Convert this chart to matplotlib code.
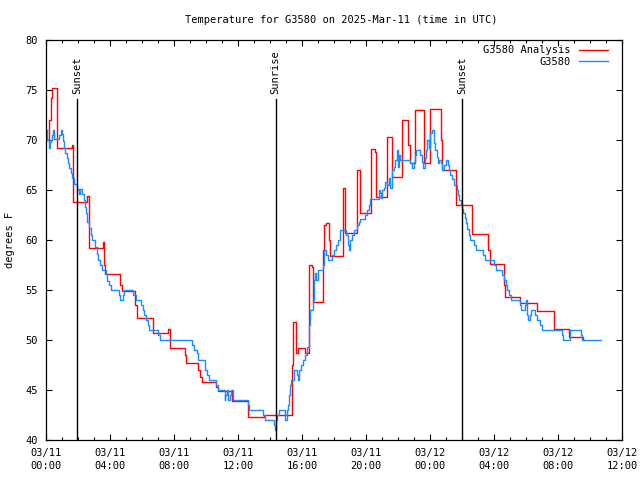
import matplotlib
matplotlib.use('Agg')
import matplotlib.pyplot as plt
import numpy as np

# hours since 2025-03-11 00:00 UTC
analysis_t = [0.08, 0.21, 0.29, 0.36, 0.67, 0.69, 1.61, 1.67, 2.58, 2.67, 2.71,
              3.59, 3.65, 3.69, 4.63, 4.74, 5.57, 5.68, 6.68, 6.71, 7.65, 7.72,
              8.70, 8.76, 9.53, 9.64, 9.74, 10.64, 10.72, 11.62, 12.64, 13.60,
              15.39, 15.46, 15.64, 15.73, 16.18, 16.41, 16.46, 16.65, 16.71,
              17.32, 17.40, 17.52, 17.71, 17.77, 18.54, 18.59, 18.71, 19.44,
              19.65, 20.34, 20.59, 20.65, 21.32, 21.65, 22.22, 22.65, 22.73,
              23.05, 23.65, 24.03, 24.69, 24.74, 25.63, 26.60, 27.63, 27.72,
              28.60, 28.66, 29.63, 30.66, 31.73, 32.71, 33.54, 33.60]
analysis_f = [70.0, 72.0, 74.2, 75.2, 72.2, 69.2, 69.5, 63.8, 64.4, 61.5, 59.2,
              59.8, 57.5, 56.6, 55.5, 54.9, 53.5, 52.2, 51.3, 50.7, 51.1, 49.2,
              48.5, 47.7, 47.0, 46.3, 45.8, 45.3, 44.9, 43.9, 42.3, 42.5,
              47.5, 51.8, 48.7, 49.2, 48.7, 53.0, 57.5, 57.3, 53.8,
              59.0, 61.5, 61.7, 60.0, 58.4, 63.5, 65.2, 60.7, 67.0,
              62.7, 69.1, 68.8, 64.3, 70.3, 66.3, 72.0, 69.5, 67.7,
              73.0, 67.7, 73.1, 70.0, 67.0, 63.5, 60.6, 59.0, 57.6,
              55.5, 54.3, 53.7, 52.9, 51.1, 50.3, 50.0, 50.0]

obs_t = [0.04, 0.09, 0.16, 0.21, 0.25, 0.29, 0.39, 0.46, 0.53, 0.81, 0.92, 0.98,
         1.05, 1.13, 1.19, 1.30, 1.36, 1.46, 1.55, 1.63, 1.77, 1.96, 2.08, 2.13,
         2.25, 2.36, 2.44, 2.50, 2.58, 2.69, 2.80, 2.90, 3.07, 3.17, 3.27, 3.38,
         3.52, 3.74, 3.84, 3.94, 4.05, 4.59, 4.65, 4.84, 4.90, 5.46, 5.61, 5.95,
         6.05, 6.15, 6.26, 6.36, 6.46, 7.03, 7.13, 9.12, 9.22, 9.45, 9.53, 9.95,
         10.09, 10.16, 10.64, 10.72, 11.16, 11.20, 11.31, 11.37, 11.47, 11.58,
         11.68, 12.60, 12.66, 13.56, 13.66, 14.22, 14.31, 14.39, 14.46, 14.54,
         14.91, 15.06, 15.13, 15.21, 15.27, 15.33, 15.52, 15.69, 15.75, 15.83,
         15.96, 16.04, 16.21, 16.31, 16.41, 16.46, 16.52, 16.67, 16.73, 16.83,
         16.90, 17.00, 17.29, 17.40, 17.50, 17.63, 17.88, 17.98, 18.13, 18.23,
         18.40, 18.77, 18.88, 18.92, 18.98, 19.13, 19.23, 19.44, 19.54, 19.65,
         19.96, 20.09, 20.17, 20.24, 20.80, 20.86, 20.95, 21.01, 21.11, 21.21,
         21.32, 21.42, 21.53, 21.63, 21.73, 21.84, 21.95, 22.01, 22.09, 22.15,
         22.78, 22.90, 22.99, 23.09, 23.15, 23.40, 23.51, 23.57, 23.66, 23.72,
         23.82, 23.92, 24.03, 24.14, 24.24, 24.34, 24.41, 24.51, 24.59, 24.70,
         24.76, 24.86, 25.03, 25.11, 25.18, 25.28, 25.39, 25.53, 25.66, 25.74,
         25.83, 25.91, 26.02, 26.08, 26.16, 26.24, 26.33, 26.43, 26.49, 26.74,
         26.87, 27.33, 27.41, 27.99, 28.12, 28.52, 28.64, 28.72, 28.83, 28.93,
         29.04, 29.62, 29.71, 29.91, 29.99, 30.04, 30.08, 30.14, 30.23, 30.29,
         30.56, 30.71, 30.87, 30.98, 32.23, 32.33, 32.75, 33.42, 33.52, 34.71]
obs_f = [71.0, 70.0, 69.5, 69.2, 69.8, 70.0, 70.5, 71.0, 70.1, 70.5, 71.0, 70.6,
         69.9, 69.2, 68.7, 68.2, 67.7, 67.2, 66.7, 66.2, 65.6, 65.1, 64.6, 65.1,
         64.6, 64.0, 63.3, 62.7, 61.8, 61.2, 60.5, 60.0, 59.3, 58.6, 58.0, 57.5,
         57.0, 56.6, 55.9, 55.5, 55.0, 54.5, 54.0, 54.5, 55.0, 54.5, 54.0, 53.5,
         53.0, 52.5, 52.0, 51.5, 51.0, 50.5, 50.0, 49.5, 49.0, 48.7, 48.0, 47.0,
         46.5, 46.0, 45.5, 45.0, 44.0, 44.5, 45.0, 44.0, 44.5, 45.0,
         44.0, 43.5, 43.0, 42.5, 42.0, 41.5, 41.0, 42.0, 42.5, 43.0,
         42.0, 43.0, 43.5, 44.5, 45.5, 46.0, 47.0, 46.5, 46.0, 47.0,
         47.5, 48.0, 48.5, 49.3, 50.7, 51.5, 53.0, 54.0, 56.0, 56.7,
         56.0, 57.0, 57.5, 59.0, 58.5, 58.0, 58.5, 59.0, 59.5, 60.0,
         61.0, 60.5, 59.5, 59.0, 60.0, 60.5, 61.0, 61.5, 61.8, 62.1,
         62.5, 63.0, 63.5, 64.1, 65.0, 64.7, 64.2, 65.0, 65.2, 65.8,
         65.5, 66.2, 65.2, 67.0, 67.3, 68.0, 69.0, 67.3, 68.5, 68.0,
         67.7, 67.2, 67.8, 68.5, 69.0, 68.5, 67.8, 67.2, 68.2, 69.0,
         70.0, 69.2, 70.7, 71.0, 69.7, 69.0, 68.3, 67.7, 68.0, 67.7,
         67.0, 67.5, 68.0, 67.5, 67.0, 66.5, 66.1, 65.5, 65.0, 64.5,
         64.0, 63.5, 63.1, 62.7, 62.2, 61.7, 61.1, 60.5, 60.0, 59.5,
         59.0, 58.5, 58.0, 57.5, 57.0, 56.5, 56.0, 55.5, 55.0, 54.5,
         54.0, 53.5, 53.0, 53.5, 54.0, 53.5, 52.5, 52.0, 52.5, 53.0,
         52.5, 52.0, 51.5, 51.0, 50.5, 50.0, 51.0, 50.5, 50.0, 50.0]

sun_t = [1.96, 14.35, 26.0]
sun_names = ['Sunset', 'Sunrise', 'Sunset']

tick_t = [0, 4, 8, 12, 16, 20, 24, 28, 32, 36]
tick_labels = ['03/11\n00:00', '03/11\n04:00', '03/11\n08:00', '03/11\n12:00',
               '03/11\n16:00', '03/11\n20:00', '03/12\n00:00', '03/12\n04:00',
               '03/12\n08:00', '03/12\n12:00']

plt.rcParams['font.family'] = ['DejaVu Sans Mono']
plt.rcParams['font.size'] = 7.5

fig = plt.figure(figsize=(6.4, 4.8), dpi=100)
ax = fig.add_axes([46/640, 40/480, 576/640, 400/480])

ax.plot(analysis_t, analysis_f, drawstyle='steps-post', color='#ff0000',
        lw=1.0, label='G3580 Analysis')
ax.plot(obs_t, obs_f, drawstyle='steps-post', color='#1a8cff',
        lw=1.0, label='G3580')

for t, name in zip(sun_t, sun_names):
    ax.plot([t, t], [40, 74.1], color='black', lw=1.0)
    ax.text(t, 74.6, name, rotation=90, ha='center', va='bottom')

ax.set_xlim(0, 36)
ax.set_ylim(40, 80)
ax.set_xticks(tick_t)
ax.set_xticklabels(tick_labels, linespacing=1.3)
ax.set_xticks(np.arange(0, 37, 1), minor=True)
ax.set_yticks(np.arange(40, 81, 5))
ax.tick_params(which='both', direction='in', top=True, right=True)
ax.tick_params(which='major', length=4, width=0.8)
ax.tick_params(which='minor', length=2.2, width=0.8)
ax.tick_params(axis='x', pad=6)
ax.tick_params(axis='y', pad=6)
for s in ax.spines.values():
    s.set_linewidth(0.9)

ax.legend(loc='upper right', bbox_to_anchor=(1 - 9/576, 1), markerfirst=False,
          frameon=False, handlelength=2.8, handletextpad=0.8, labelspacing=0.15,
          borderaxespad=0.3, borderpad=0.2)

fig.text(341/640, 1 - 20/480, 'Temperature for G3580 on 2025-Mar-11 (time in UTC)',
         ha='center', va='center')
fig.text(10/640, 0.5, 'degrees F', rotation=90, ha='center', va='center')

fig.savefig('out.png', dpi=100)
